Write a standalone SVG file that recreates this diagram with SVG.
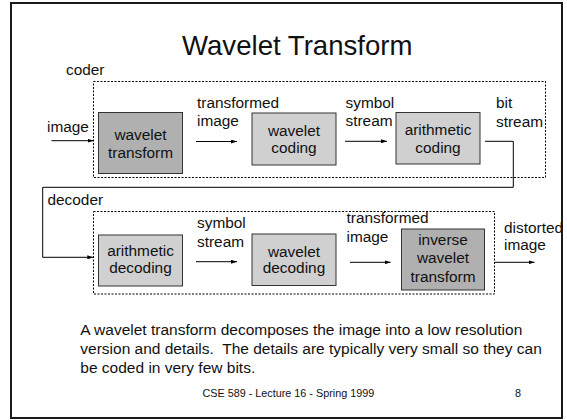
<svg xmlns="http://www.w3.org/2000/svg" width="567" height="420" viewBox="0 0 567 420">
<defs>
<marker id="ah" viewBox="0 0 6 4" refX="6" refY="2" markerWidth="6" markerHeight="4" markerUnits="userSpaceOnUse" orient="auto">
<path d="M0,0 L6,2 L0,4 Z" fill="#000"/>
</marker>
</defs>
<style>
text{font-family:"Liberation Sans",Arial,sans-serif;fill:#111}
.lbl{font-size:15.4px}
.mid{text-anchor:middle}
.box{stroke:#333;stroke-width:1}
.lt{fill:#d0d0d0}
.dk{fill:#b0b0b0}
.dash{fill:none;stroke:#000;stroke-width:1;stroke-dasharray:2,1.5}
.arr{fill:none;stroke:#000;stroke-width:1;marker-end:url(#ah)}
.ln{fill:none;stroke:#000;stroke-width:1}
</style>
<rect x="0" y="0" width="567" height="420" fill="#fff"/>
<rect x="11" y="3" width="551" height="415" fill="#fff" stroke="#1a1a1a" stroke-width="2"/>
<text x="182" y="55" style="font-size:27.6px">Wavelet Transform</text>

<g id="coder">
<rect class="dash" x="93.5" y="81.5" width="452" height="96"/>
<text class="lbl" x="66" y="75">coder</text>
</g>
<g id="decoder">
<rect class="dash" x="93.5" y="211.5" width="401" height="82.5"/>
<text class="lbl" x="47.5" y="205">decoder</text>
</g>

<g id="wavelet-transform">
<rect class="box dk" x="98.5" y="112.5" width="84" height="61"/>
<text class="lbl mid" x="140.5" y="140">wavelet</text>
<text class="lbl mid" x="140.5" y="158">transform</text>
</g>
<g id="wavelet-coding">
<rect class="box lt" x="252" y="113" width="84" height="52"/>
<text class="lbl mid" x="294" y="136">wavelet</text>
<text class="lbl mid" x="294" y="153">coding</text>
</g>
<g id="arithmetic-coding">
<rect class="box lt" x="396" y="112.5" width="84" height="51.5"/>
<text class="lbl mid" x="438" y="135">arithmetic</text>
<text class="lbl mid" x="438" y="153">coding</text>
</g>
<g id="arithmetic-decoding">
<rect class="box lt" x="98.5" y="235" width="84" height="51"/>
<text class="lbl mid" x="140.5" y="256">arithmetic</text>
<text class="lbl mid" x="140.5" y="273">decoding</text>
</g>
<g id="wavelet-decoding">
<rect class="box lt" x="252" y="234" width="84" height="51.5"/>
<text class="lbl mid" x="294" y="256.5">wavelet</text>
<text class="lbl mid" x="294" y="273">decoding</text>
</g>
<g id="inverse-wavelet-transform">
<rect class="box dk" x="401.5" y="229" width="83" height="61"/>
<text class="lbl mid" x="443" y="245">inverse</text>
<text class="lbl mid" x="443" y="263.3">wavelet</text>
<text class="lbl mid" x="443" y="281.7">transform</text>
</g>

<g id="connectors">
<line class="arr" x1="51.5" y1="140.7" x2="93.5" y2="140.7"/>
<line class="arr" x1="196" y1="141.5" x2="237" y2="141.5"/>
<line class="arr" x1="345" y1="141.3" x2="387" y2="141.3"/>
<polyline class="arr" points="485,141.3 513.3,141.3 513.3,187.3 42.7,187.3 42.7,257.3 93.3,257.3"/>
<line class="arr" x1="196" y1="261.7" x2="237" y2="261.7"/>
<line class="arr" x1="350" y1="262.3" x2="390.6" y2="262.3"/>
<line class="arr" x1="494.5" y1="262.3" x2="534.5" y2="262.3"/>
</g>

<g id="labels">
<text class="lbl" x="47" y="132">image</text>
<text class="lbl" x="197" y="108">transformed</text>
<text class="lbl" x="197" y="126">image</text>
<text class="lbl" x="345.5" y="108">symbol</text>
<text class="lbl" x="345.5" y="126">stream</text>
<text class="lbl" x="496" y="108">bit</text>
<text class="lbl" x="496" y="126.7">stream</text>
<text class="lbl" x="197" y="228">symbol</text>
<text class="lbl" x="197" y="246.7">stream</text>
<text class="lbl" x="346.5" y="223">transformed</text>
<text class="lbl" x="346.5" y="241.7">image</text>
<text class="lbl" x="504" y="233">distorted</text>
<text class="lbl" x="504" y="250">image</text>
</g>

<g id="text">
<text style="font-size:15.5px" x="80.3" y="335">A wavelet transform decomposes the image into a low resolution</text>
<text style="font-size:15.5px;white-space:pre" x="80.3" y="354" xml:space="preserve">version and details.  The details are typically very small so they can</text>
<text style="font-size:15.5px" x="80.3" y="372.7">be coded in very few bits.</text>
<text style="font-size:10.8px" x="202.5" y="397">CSE 589 - Lecture 16 - Spring 1999</text>
<text style="font-size:10.8px" x="515" y="397">8</text>
</g>
</svg>
